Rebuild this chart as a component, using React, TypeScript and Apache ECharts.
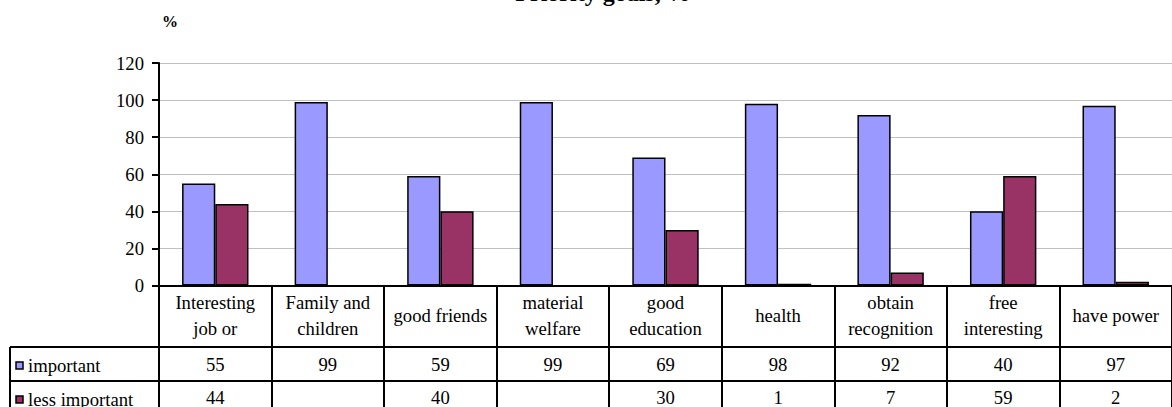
import React, { useEffect, useRef } from "react";
import * as echarts from "echarts";

const titleText = "Priority goals, %";
const unitLabel = "%";
const categories = [
  "Interesting\njob or",
  "Family and\nchildren",
  "good friends",
  "material\nwelfare",
  "good\neducation",
  "health",
  "obtain\nrecognition",
  "free\ninteresting",
  "have power",
];
const seriesNames = ["important", "less important"];
const important: (number | null)[] = [55, 99, 59, 99, 69, 98, 92, 40, 97];
const lessImportant: (number | null)[] = [44, null, 40, null, 30, 1, 7, 59, 2];
const yMin = 0;
const yMax = 120;
const yInterval = 20;

const FONT = "'Liberation Serif', 'Times New Roman', serif";
const FS = 18.67;
const BLUE = "#9999FF";
const RED = "#993366";
const seriesColors = [BLUE, RED];

// layout
const W = 1172;
const H = 407;
const gridLeft = 159;
const gridRight = -4;
const gridTop = 63;
const axisY = 287;
const row1Top = 347;
const row2Top = 381;
const rowH = 34;
const tableLeft = 10;
const tableRight = 1176;

export default function App() {
  const ref = useRef<HTMLDivElement>(null);
  useEffect(() => {
    document.body.style.margin = "0";
    const chart = echarts.init(ref.current!, null, { renderer: "svg" });
    const valueAxis = (vals: (number | null)[], margin: number) => ({
      type: "category",
      gridIndex: 0,
      position: "bottom",
      data: categories,
      axisLine: { show: false },
      axisTick: { show: false },
      splitLine: { show: false },
      axisLabel: {
        interval: 0,
        margin,
        verticalAlign: "middle",
        fontFamily: FONT,
        fontSize: FS,
        color: "#000",
        formatter: (_v: string, i: number) => (vals[i] == null ? "" : String(vals[i])),
      },
    });
    const legendGraphics: any[] = [];
    seriesNames.forEach((name, i) => {
      const cy = (i === 0 ? row1Top : row2Top) + rowH / 2 + 2;
      legendGraphics.push({
        type: "rect",
        shape: { x: 16, y: cy - 4, width: 7, height: 7 },
        style: { fill: seriesColors[i], stroke: "#000", lineWidth: 1.5 },
      });
      legendGraphics.push({
        type: "text",
        x: 28,
        y: cy - 1,
        style: { text: name, fontFamily: FONT, fontSize: FS, fill: "#000", align: "left", verticalAlign: "middle" },
      });
    });
    chart.setOption({
      animation: false,
      backgroundColor: "#fff",
      textStyle: { fontFamily: FONT },
      grid: { left: gridLeft, right: gridRight, top: gridTop, bottom: H - axisY, containLabel: false },
      xAxis: [
        {
          type: "category",
          gridIndex: 0,
          position: "bottom",
          data: categories,
          axisLine: { show: true, lineStyle: { color: "#000", width: 2 } },
          axisTick: { show: true, interval: 0, length: H - axisY + 10, lineStyle: { color: "#000", width: 2 } },
          axisLabel: {
            interval: 0,
            margin: 30,
            verticalAlign: "middle",
            lineHeight: 26,
            fontFamily: FONT,
            fontSize: FS,
            color: "#000",
          },
        },
        valueAxis(important, row1Top + rowH / 2 + 2 - axisY),
        valueAxis(lessImportant, row2Top + rowH / 2 + 1 - axisY),
      ],
      yAxis: {
        type: "value",
        min: yMin,
        max: yMax,
        interval: yInterval,
        axisLine: { show: true, lineStyle: { color: "#000", width: 2 } },
        axisTick: { show: true, length: 7, lineStyle: { color: "#000", width: 2 } },
        axisLabel: { margin: 15, fontFamily: FONT, fontSize: FS, color: "#000" },
        splitLine: { show: true, lineStyle: { color: "#C0C0C0", width: 1 } },
      },
      series: [
        {
          name: seriesNames[0],
          type: "bar",
          xAxisIndex: 0,
          data: important,
          barGap: "0%",
          barCategoryGap: "41%",
          itemStyle: { color: BLUE, borderColor: "#000", borderWidth: 1.5 },
        },
        {
          name: seriesNames[1],
          type: "bar",
          xAxisIndex: 0,
          data: lessImportant,
          barGap: "0%",
          barCategoryGap: "41%",
          itemStyle: { color: RED, borderColor: "#000", borderWidth: 1.5 },
        },
      ],
      graphic: [
        {
          type: "text",
          x: 603,
          y: -7,
          style: { text: titleText, fontFamily: FONT, fontSize: 24, fontWeight: "bold", fill: "#000", align: "center", verticalAlign: "middle" },
        },
        {
          type: "text",
          x: 170,
          y: 21,
          style: { text: unitLabel, fontFamily: FONT, fontSize: 16, fontWeight: "bold", fill: "#000", align: "center", verticalAlign: "middle" },
        },
        {
          type: "line",
          shape: { x1: tableLeft, y1: row1Top, x2: tableRight, y2: row1Top },
          style: { stroke: "#000", lineWidth: 2 },
        },
        {
          type: "line",
          shape: { x1: tableLeft, y1: row2Top, x2: tableRight, y2: row2Top },
          style: { stroke: "#000", lineWidth: 2 },
        },
        {
          type: "line",
          shape: { x1: tableLeft, y1: row1Top, x2: tableLeft, y2: H + 10 },
          style: { stroke: "#000", lineWidth: 2 },
        },
        ...legendGraphics,
      ],
    });
    return () => chart.dispose();
  }, []);
  return <div ref={ref} style={{ width: W, height: H }} />;
}
